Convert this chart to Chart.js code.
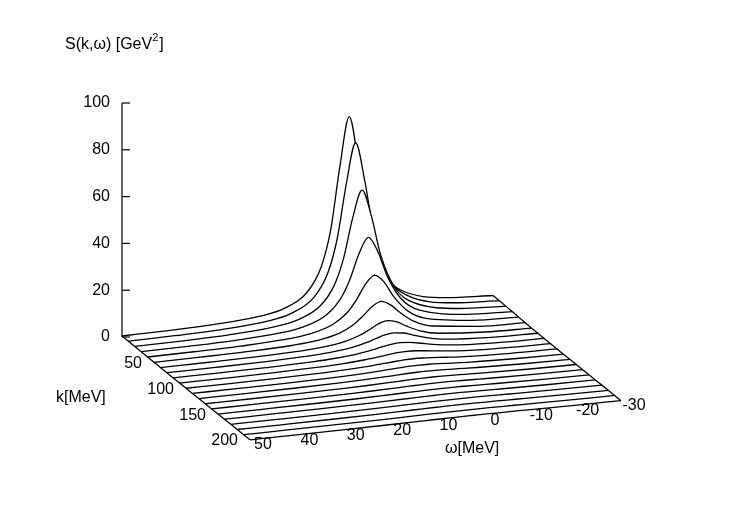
<!DOCTYPE html>
<html><head><meta charset="utf-8">
<script src="https://cdn.jsdelivr.net/npm/chart.js@4"></script>
<style>html,body{margin:0;padding:0;background:#fff}#w{width:750px;height:525px}</style>
</head><body><div id="w"><canvas id="c"></canvas></div>
<script>
// omega grid (MeV), k rows (MeV), S values (GeV^2) per k row
const omegas = [50, 40, 30, 20, 15, 10, 7, 5, 3, 1, -1, -3, -6, -10, -20, -30];
const kValues = [0,10,20,30,40,50,60,70,80,90,100,110,120,130,140,150,160,170,180,190,200];
const S = [
 [0.43,0.67,1.2,2.76,4.94,11.0,21.3,36.4,63.3,84,63.3,36.4,16.8,7.7,2.27,1.06],
 [0.43,0.67,1.2,2.75,4.9,10.8,20.6,34.6,58,75,58,34.6,16.4,7.6,2.26,1.05],
 [0.38,0.60,1.06,2.43,4.3,9.4,17.5,28.5,45.6,57,45.6,28.5,14,6.7,2.0,0.93],
 [0.33,0.51,0.92,2.07,3.66,7.8,14.0,21.8,32.6,39,32.6,21.8,11.4,5.6,1.72,0.80],
 [0.26,0.41,0.72,1.62,2.8,5.9,10.2,15.2,21.6,25,21.6,15.2,8.4,4.3,1.34,0.63],
 [0.2,0.31,0.56,1.23,2.14,4.35,7.3,10.5,14.1,16,14.1,10.5,6.1,3.2,1.0,0.49],
 [0.15,0.23,0.41,0.9,1.56,3.1,5.0,6.9,9.0,10,9.0,6.9,4.2,2.3,0.75,0.36],
 [0.14,0.22,0.39,0.84,1.41,2.6,4.0,5.3,6.5,7,6.5,5.3,3.5,2.0,0.70,0.34],
 [0.13,0.2,0.35,0.75,1.23,2.2,3.2,4.0,4.7,5,4.7,4.0,2.8,1.7,0.63,0.31],
 [0.12,0.18,0.31,0.64,1.02,1.75,2.4,2.9,3.3,3.5,3.3,2.9,2.2,1.4,0.54,0.27],
 [0.1,0.15,0.27,0.54,0.85,1.38,1.84,2.16,2.4,2.5,2.4,2.16,1.68,1.13,0.46,0.24],
 [0.1,0.15,0.25,0.5,0.76,1.2,1.53,1.77,1.94,2,1.94,1.77,1.42,1.0,0.43,0.22],
 [0.09,0.14,0.23,0.45,0.68,1.0,1.28,1.44,1.55,1.6,1.55,1.44,1.19,0.87,0.39,0.21],
 [0.09,0.13,0.22,0.41,0.6,0.88,1.07,1.19,1.27,1.3,1.27,1.19,1.0,0.76,0.36,0.19],
 [0.08,0.13,0.21,0.39,0.55,0.78,0.93,1.02,1.08,1.1,1.08,1.02,0.88,0.68,0.34,0.19],
 [0.09,0.13,0.21,0.38,0.54,0.74,0.86,0.93,0.98,1.0,0.98,0.93,0.82,0.65,0.34,0.19],
 [0.09,0.13,0.21,0.37,0.51,0.68,0.79,0.84,0.89,0.9,0.89,0.84,0.75,0.6,0.33,0.19],
 [0.09,0.13,0.2,0.36,0.48,0.62,0.71,0.76,0.79,0.8,0.79,0.76,0.68,0.56,0.31,0.18],
 [0.08,0.12,0.19,0.33,0.44,0.56,0.63,0.67,0.69,0.7,0.69,0.67,0.61,0.51,0.29,0.18],
 [0.08,0.11,0.18,0.30,0.39,0.49,0.54,0.57,0.59,0.6,0.59,0.57,0.53,0.45,0.27,0.16],
 [0.07,0.1,0.16,0.26,0.33,0.42,0.46,0.48,0.5,0.5,0.5,0.48,0.45,0.39,0.24,0.15]
];
const zTicks = [0,20,40,60,80,100];
const kTicks = [50,100,150,200];
const wTicks = [50,40,30,20,10,0,-10,-20,-30];

// 3D view projection (gnuplot-like)
const W0=50, W1=-30, K1=200, Z1=100;
const O={x:122,y:337}, A={x:371,y:-39}, B={x:128,y:103}, C={x:0,y:-234};
function P(w,k,z){const t=(W0-w)/(W0-W1), u=k/K1, v=z/Z1;
  return {x:O.x+A.x*t+B.x*u+C.x*v, y:O.y+A.y*t+B.y*u+C.y*v};}

const datasets=[];
const n=kValues.length;
kValues.forEach((k,i)=>{
  const curve={data:omegas.map((w,j)=>P(w,k,S[i][j])),borderColor:'#000',borderWidth:1.3,
    pointRadius:0,cubicInterpolationMode:'monotone',backgroundColor:'#fff',order:(n-1-i)*2,showLine:true};
  curve.fill={target:datasets.length+1};
  datasets.push(curve);
  datasets.push({data:omegas.map(w=>P(w,k,0)),borderColor:'rgba(0,0,0,0)',borderWidth:0,pointRadius:0,
    showLine:true,fill:false,order:(n-1-i)*2+1});
});
datasets.push({data:kValues.map((k,i)=>P(W0,k,S[i][0])),borderColor:'#000',borderWidth:1.3,pointRadius:0,showLine:true,fill:false,order:-1});
datasets.push({data:kValues.map((k,i)=>P(W1,k,S[i][omegas.length-1])),borderColor:'#000',borderWidth:1.3,pointRadius:0,showLine:true,fill:false,order:-1});

const F='"Liberation Sans", Arial, sans-serif';
const deco={id:'deco',afterDraw(ch){
  const ctx=ch.ctx, xs=ch.scales.x, ys=ch.scales.y;
  const px=p=>({x:xs.getPixelForValue(p.x),y:ys.getPixelForValue(p.y)});
  ctx.save();ctx.strokeStyle='#000';ctx.fillStyle='#000';ctx.lineWidth=1.2;
  const a=px(P(W0,0,0)), b=px(P(W0,0,Z1));
  ctx.beginPath();ctx.moveTo(a.x,a.y);ctx.lineTo(b.x,b.y);ctx.stroke();
  ctx.font='16px '+F;ctx.textAlign='right';ctx.textBaseline='middle';
  zTicks.forEach(z=>{const q=px(P(W0,0,z));ctx.beginPath();ctx.moveTo(q.x,q.y);ctx.lineTo(q.x+8,q.y);ctx.stroke();
    ctx.fillText(String(z),q.x-12,q.y);});
  kTicks.forEach(k=>{const q=px(P(W0,k,0));ctx.fillText(String(k),q.x-12,q.y+1);});
  ctx.textAlign='center';
  wTicks.forEach(w=>{const q=px(P(w,K1,0));ctx.fillText(String(w),q.x+13,q.y+5);});
  ctx.textAlign='left';
  ctx.fillText('k[MeV]',56,398);
  ctx.fillText('ω[MeV]',445,449);
  ctx.fillText('S(k,ω) [GeV',65,45);
  const wd=ctx.measureText('S(k,ω) [GeV').width;
  ctx.font='11px '+F;ctx.fillText('2',65+wd,38);
  const w2=ctx.measureText('2').width;
  ctx.font='16px '+F;ctx.fillText(']',65+wd+w2+1,45);
  ctx.restore();}};

new Chart(document.getElementById('c'),{type:'scatter',data:{datasets},
 options:{responsive:true,maintainAspectRatio:false,animation:false,
  layout:{padding:0},
  plugins:{legend:{display:false},tooltip:{enabled:false},filler:{drawTime:'beforeDatasetDraw'}},
  scales:{x:{type:'linear',min:0,max:750,display:false},y:{type:'linear',min:0,max:525,reverse:true,display:false}}},
 plugins:[deco]});
</script></body></html>
